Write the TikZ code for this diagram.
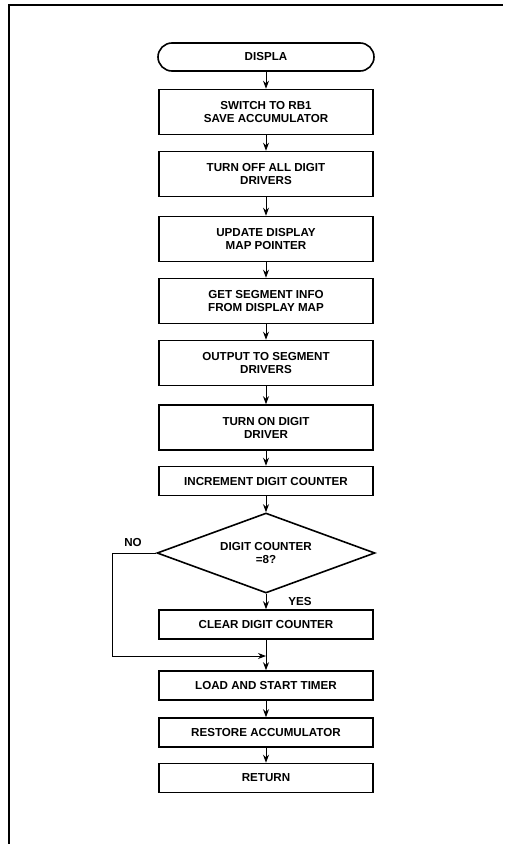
\documentclass[tikz,border=0pt]{standalone}
\usepackage{fontspec}
\setmainfont{Liberation Sans}
\usetikzlibrary{arrows.meta,shapes.geometric}
\begin{document}
\begin{tikzpicture}[x=1pt,y=-1pt,
  font=\fontsize{11.6}{13}\selectfont\bfseries,
  stepbox/.style={draw,line width=1.6pt,minimum width=214pt,inner sep=2pt,align=center},
  twoline/.style={stepbox,minimum height=45pt},
  oneline/.style={stepbox,minimum height=29pt},
  term/.style={draw,line width=1.6pt,rounded corners=14pt,minimum width=216pt,minimum height=28pt},
  decision/.style={draw,line width=1.6pt,diamond,aspect=2.7,minimum width=218pt,minimum height=80pt,inner sep=1pt,align=center},
  flow/.style={line width=0.9pt,-{Stealth[length=8pt,width=6pt]}},
  label/.style={inner sep=0pt}]
\useasboundingbox (0,0) rectangle (504,844);
% page frame, open at the right and bottom
\draw[line width=1.4pt] (9,844) -- (9,5) -- (503,5);

\node[term]     (start) at (266,57)    {DISPLA};
\node[twoline]  (b1)    at (266,112)   {SWITCH TO RB1\\SAVE ACCUMULATOR};
\node[twoline]  (b2)    at (266,174)   {TURN OFF ALL DIGIT\\DRIVERS};
\node[twoline]  (b3)    at (266,239)   {UPDATE DISPLAY\\MAP POINTER};
\node[twoline]  (b4)    at (266,301)   {GET SEGMENT INFO\\FROM DISPLAY MAP};
\node[twoline]  (b5)    at (266,363)   {OUTPUT TO SEGMENT\\DRIVERS};
\node[twoline]  (b6)    at (266,427.5) {TURN ON DIGIT\\DRIVER};
\node[oneline]  (b7)    at (266,481)   {INCREMENT DIGIT COUNTER};
\node[decision] (dec)   at (266,553)   {DIGIT COUNTER\\=8?};
\node[oneline]  (clr)   at (266,624.5) {CLEAR DIGIT COUNTER};
\coordinate     (merge) at (266,656);
\coordinate     (nox)   at (112,553);
\coordinate     (noy)   at (112,656);
\node[oneline]  (load)  at (266,685.5) {LOAD AND START TIMER};
\node[oneline]  (rest)  at (266,732.5) {RESTORE ACCUMULATOR};
\node[oneline]  (ret)   at (266,778)   {RETURN};

\node[label] (no)  at (133,542) {NO};
\node[label] (yes) at (300,601) {YES};

\draw[flow] (start) -- (b1);
\draw[flow] (b1) -- (b2);
\draw[flow] (b2) -- (b3);
\draw[flow] (b3) -- (b4);
\draw[flow] (b4) -- (b5);
\draw[flow] (b5) -- (b6);
\draw[flow] (b6) -- (b7);
\draw[flow] (b7) -- (dec);
\draw[flow] (dec) -- (clr);
\draw[line width=0.9pt] (clr) -- (merge);
\draw[flow] (dec.west) -- (nox) -- (noy) -- (merge);
\draw[flow] (merge) -- (load);
\draw[flow] (load) -- (rest);
\draw[flow] (rest) -- (ret);
\end{tikzpicture}
\end{document}
